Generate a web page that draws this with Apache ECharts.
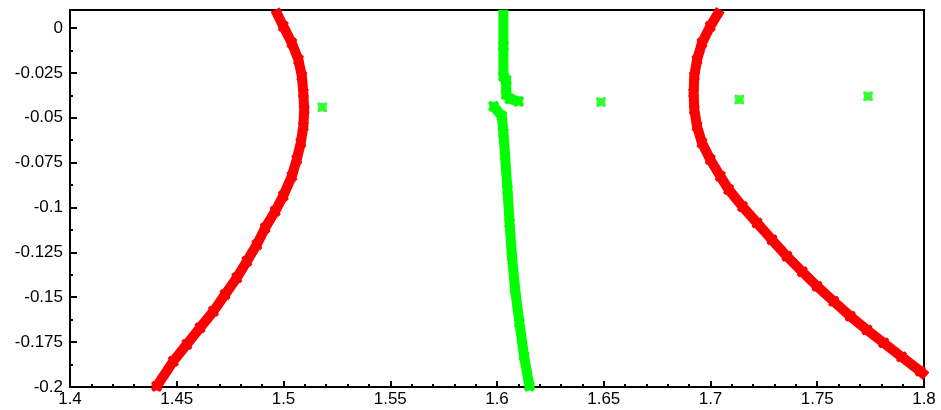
<!DOCTYPE html>
<html>
<head>
<meta charset="utf-8">
<script src="https://cdn.jsdelivr.net/npm/echarts@6/dist/echarts.min.js"></script>
<style>
html,body{margin:0;padding:0;background:#fff;}
#chart{width:941px;height:410px;}
</style>
</head>
<body>
<div id="chart"></div>
<script>
// Left red branch [x, y]
const redLeft = [
  [1.4961, 0.0102], [1.4999, 0.0009], [1.5039, -0.0084], [1.5070, -0.0177],
  [1.5086, -0.0269], [1.5093, -0.0362], [1.5097, -0.0455], [1.5093, -0.0548],
  [1.5081, -0.0640], [1.5062, -0.0733], [1.5039, -0.0826], [1.4999, -0.0935],
  [1.4961, -0.1021], [1.4914, -0.1114], [1.4875, -0.1207], [1.4828, -0.1300],
  [1.4781, -0.1392], [1.4726, -0.1485], [1.4672, -0.1578], [1.4609, -0.1670],
  [1.4547, -0.1763], [1.4484, -0.1856], [1.4406, -0.1996], [1.4398, -0.2010]
];
// Right red branch
const redRight = [
  [1.7046, 0.0102], [1.6999, 0.0009], [1.6960, -0.0084], [1.6937, -0.0177],
  [1.6924, -0.0269], [1.6921, -0.0362], [1.6924, -0.0455], [1.6937, -0.0548],
  [1.6960, -0.0640], [1.6999, -0.0733], [1.7046, -0.0826], [1.7085, -0.0900],
  [1.7150, -0.0995], [1.7218, -0.1086], [1.7288, -0.1180], [1.7358, -0.1272],
  [1.7430, -0.1358], [1.7499, -0.1439], [1.7577, -0.1523], [1.7655, -0.1606],
  [1.7733, -0.1682], [1.7811, -0.1754], [1.7895, -0.1832], [1.7983, -0.1912],
  [1.8010, -0.1940]
];
// Upper green branch
const greenUpper = [
  [1.6030, 0.0102], [1.6030, -0.0100], [1.6030, -0.0270], [1.6043, -0.0290],
  [1.6043, -0.0370], [1.6060, -0.0395], [1.6101, -0.0409]
];
// Lower green branch
const greenLower = [
  [1.5984, -0.0436], [1.6023, -0.0492], [1.6030, -0.0585], [1.6038, -0.0715],
  [1.6049, -0.0900], [1.6059, -0.1086], [1.6070, -0.1272], [1.6085, -0.1457],
  [1.6105, -0.1643], [1.6127, -0.1829], [1.6152, -0.1996], [1.6154, -0.2010]
];
// Isolated green points
const greenPoints = [
  [1.5182, -0.0442], [1.6487, -0.0412], [1.7135, -0.0399], [1.7738, -0.0381]
];

const xTicks = { min: 1.4, max: 1.8, interval: 0.05 };
const yTicks = { min: -0.2, max: 0.01, interval: 0.025 };

const RED = '#ff0000';
const GREEN = '#00ff00';
const cross = 'path://M0,2 L2,0 L5,1.5 L8,0 L10,2 L8.5,5 L10,8 L8,10 L5,8.5 L2,10 L0,8 L1.5,5 Z';
const blob = 'path://M0,1 L1,0 L5,1 L9,0 L10,1 L9,5 L10,9 L9,10 L5,9 L1,10 L0,9 L1,5 Z';
const font = { fontFamily: 'Liberation Sans, Arial, sans-serif', fontSize: 17, color: '#000' };

function band(data, color) {
  return {
    type: 'line', data: data, symbol: cross, symbolSize: 11, showSymbol: true,
    itemStyle: { color: color }, lineStyle: { color: color, width: 10 },
    clip: true, silent: true
  };
}

const chart = echarts.init(document.getElementById('chart'), null, { renderer: 'canvas' });
chart.setOption({
  animation: false,
  backgroundColor: '#fff',
  grid: { left: 70, right: 17, top: 10, bottom: 23, show: true, borderColor: '#000', borderWidth: 2, backgroundColor: 'transparent' },
  xAxis: {
    type: 'value', min: xTicks.min, max: xTicks.max, interval: xTicks.interval,
    axisLine: { show: true, onZero: false, lineStyle: { color: '#000', width: 2 } },
    axisTick: { show: true, inside: true, length: 6, lineStyle: { color: '#000', width: 2 } },
    minorTick: { show: true, splitNumber: 5, length: 3, lineStyle: { color: '#000', width: 2 } },
    splitLine: { show: false },
    axisLabel: Object.assign({ margin: 4 }, font)
  },
  yAxis: {
    type: 'value', min: yTicks.min, max: yTicks.max, interval: yTicks.interval,
    axisLine: { show: true, onZero: false, lineStyle: { color: '#000', width: 2 } },
    axisTick: { show: true, inside: true, length: 7, lineStyle: { color: '#000', width: 2 } },
    minorTick: { show: true, splitNumber: 2, length: 3, lineStyle: { color: '#000', width: 2 } },
    splitLine: { show: false },
    axisLabel: Object.assign({ margin: 7, showMaxLabel: false }, font)
  },
  series: [
    band(redLeft, RED),
    band(redRight, RED),
    band(greenUpper, GREEN),
    band(greenLower, GREEN),
    { type: 'scatter', data: greenPoints, symbol: blob, symbolSize: 10, itemStyle: { color: GREEN }, silent: true }
  ]
});
</script>
</body>
</html>
